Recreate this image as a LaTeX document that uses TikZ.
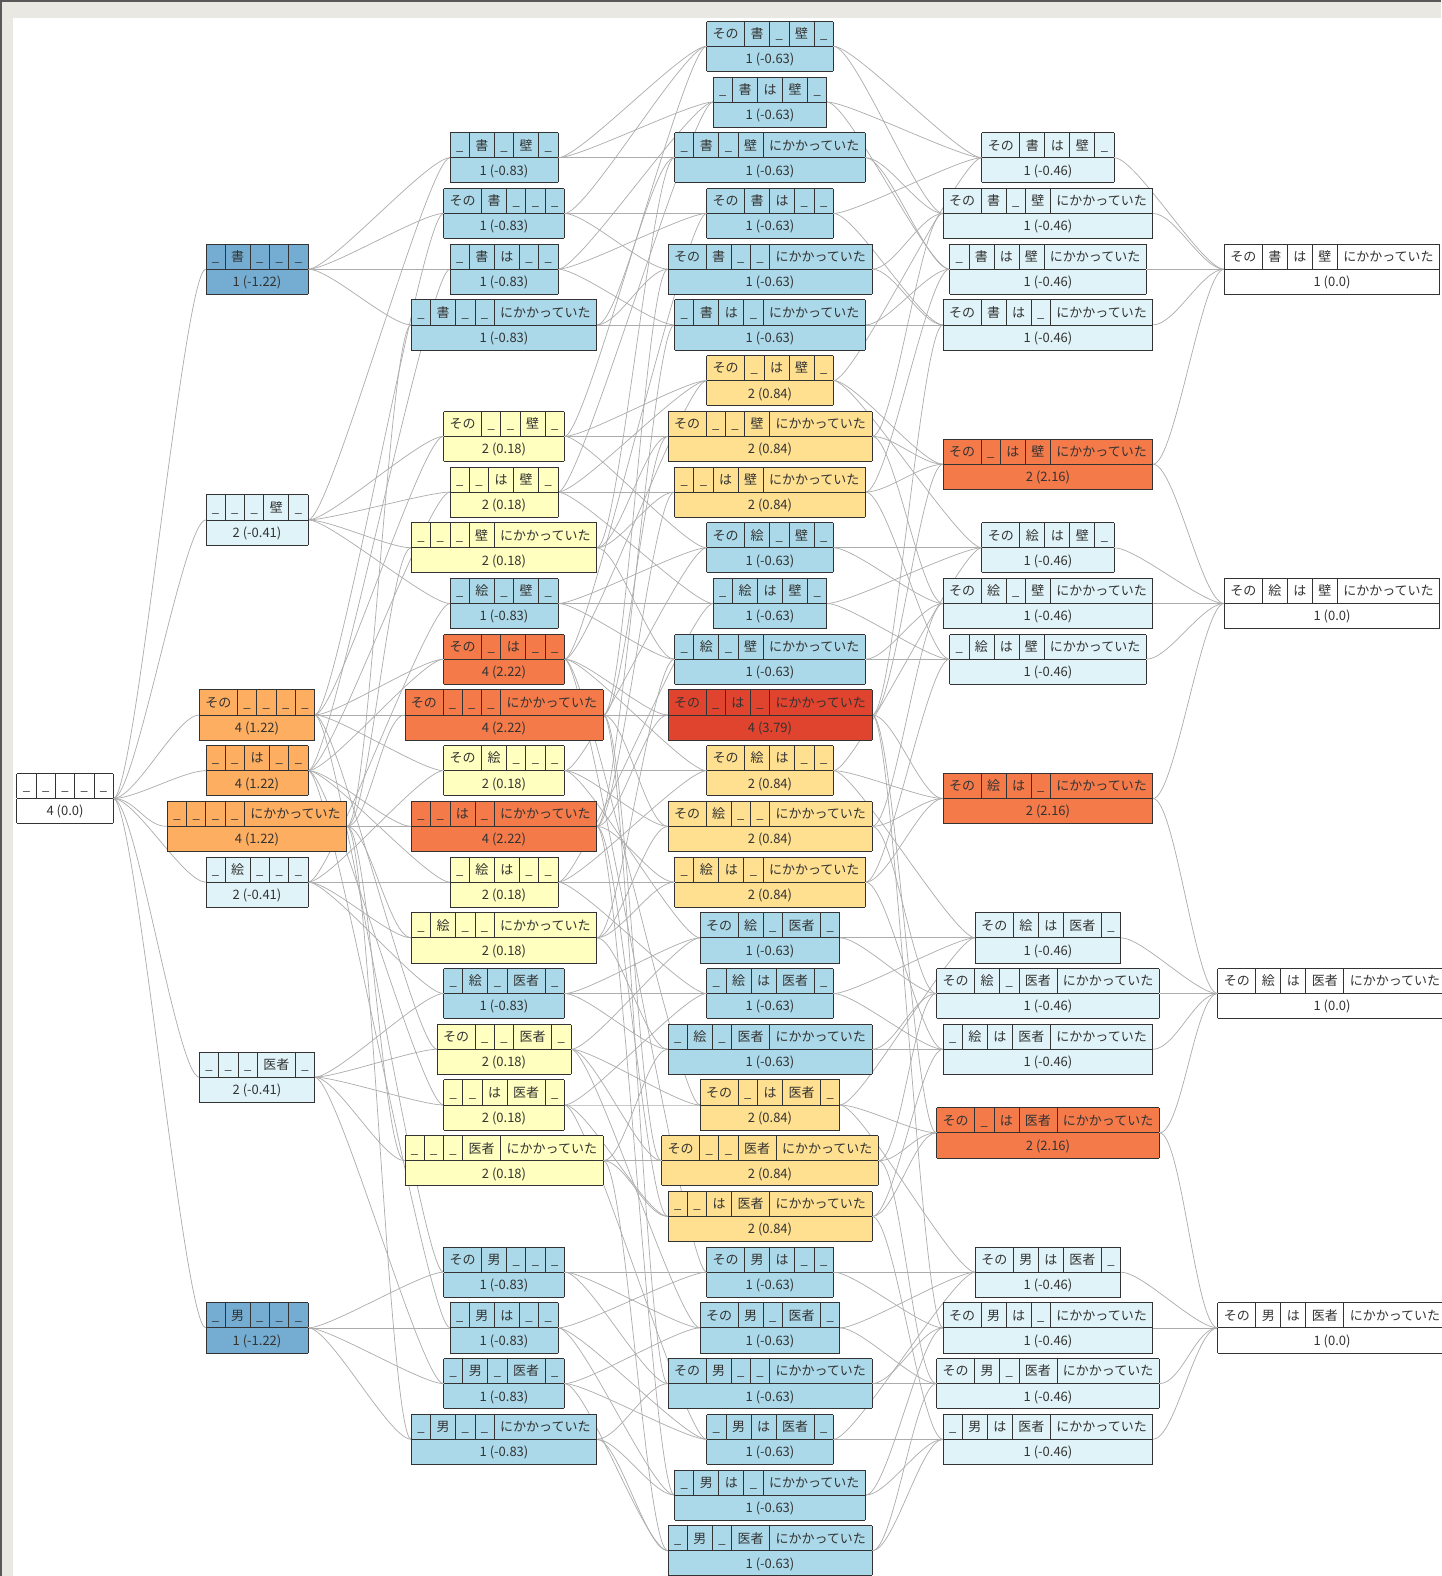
\documentclass[tikz,border=0pt]{standalone}
\usepackage{fontspec}
\newfontfamily\cjk{Noto Sans CJK JP}
\pgfdeclarelayer{back}\pgfdeclarelayer{bg}\pgfsetlayers{back,bg,main}
\definecolor{paper}{RGB}{234,232,227}
\definecolor{edgec}{RGB}{172,172,172}
\definecolor{cW}{HTML}{FFFFFF}
\definecolor{cBa}{HTML}{74ADD1}
\definecolor{cBb}{HTML}{ABD9E9}
\definecolor{cBc}{HTML}{E0F3F8}
\definecolor{cYa}{HTML}{FFFFBF}
\definecolor{cYb}{HTML}{FEE090}
\definecolor{cOa}{HTML}{FDAE61}
\definecolor{cOb}{HTML}{F47A4A}
\definecolor{cR}{HTML}{E0432E}
\setlength\tabcolsep{6pt}
\setlength\arrayrulewidth{0.8pt}
\renewcommand\arraystretch{1.62}
\expandafter\def\csname tk0\endcsname{\_}
\expandafter\def\csname tkS\endcsname{その}
\expandafter\def\csname tkB\endcsname{書}
\expandafter\def\csname tkE\endcsname{絵}
\expandafter\def\csname tkM\endcsname{男}
\expandafter\def\csname tkH\endcsname{は}
\expandafter\def\csname tkK\endcsname{壁}
\expandafter\def\csname tkI\endcsname{医者}
\expandafter\def\csname tkN\endcsname{にかかっていた}
\def\cellsof#1#2#3#4#5#6{\begin{tabular}{|c|c|c|c|c|}\hline
\csname tk#1\endcsname&\csname tk#2\endcsname&\csname tk#3\endcsname&\csname tk#4\endcsname&\csname tk#5\endcsname\\\hline
\multicolumn{5}{|c|}{#6}\\\hline\end{tabular}}
\newcommand\edg[2]{\begin{pgfonlayer}{bg}\draw[conn] (n#1.east) to[out=0,in=180,out distance=22pt,in distance=22pt] (n#2.west);\end{pgfonlayer}}
\def\mkedges#1#2#3#4#5{%
\if#10\else\edg{0#2#3#4#5}{#1#2#3#4#5}\fi
\if#20\else\edg{#10#3#4#5}{#1#2#3#4#5}\fi
\if#30\else\edg{#1#20#4#5}{#1#2#3#4#5}\fi
\if#40\else\edg{#1#2#30#5}{#1#2#3#4#5}\fi
\if#50\else\edg{#1#2#3#40}{#1#2#3#4#5}\fi}
\newcommand\nd[5]{\node[rec,fill=#5] (n#1) at (#2,{46.3+55.72*(#3)}) {\cellsof#1{#4}};\mkedges#1}
\begin{document}
\begin{tikzpicture}[x=1pt,y=-1pt,
  rec/.style={inner sep=0pt,text=black!80,font=\cjk\fontsize{13}{15}\selectfont},
  conn/.style={draw=edgec,line width=0.7pt}]
\useasboundingbox (0,0) rectangle (1441,1576);
\begin{pgfonlayer}{back}
\fill[paper] (0,0) rectangle (1441,1576);
\fill[black!65] (0,0) rectangle (2,1576);
\fill[black!65] (0,0) rectangle (1441,2);
\fill[white] (13,18) rectangle (1441,1576);
\end{pgfonlayer}
% column 0
\nd{00000}{65}{13.5}{4 (0.0)}{cW}
% column 1
\nd{0B000}{257}{4}{1 (-1.22)}{cBa}
\nd{000K0}{257}{8.5}{2 (-0.41)}{cBc}
\nd{S0000}{257}{12}{4 (1.22)}{cOa}
\nd{00H00}{257}{13}{4 (1.22)}{cOa}
\nd{0000N}{257}{14}{4 (1.22)}{cOa}
\nd{0E000}{257}{15}{2 (-0.41)}{cBc}
\nd{000I0}{257}{18.5}{2 (-0.41)}{cBc}
\nd{0M000}{257}{23}{1 (-1.22)}{cBa}
% column 2
\nd{0B0K0}{504}{2}{1 (-0.83)}{cBb}
\nd{SB000}{504}{3}{1 (-0.83)}{cBb}
\nd{0BH00}{504}{4}{1 (-0.83)}{cBb}
\nd{0B00N}{504}{5}{1 (-0.83)}{cBb}
\nd{S00K0}{504}{7}{2 (0.18)}{cYa}
\nd{00HK0}{504}{8}{2 (0.18)}{cYa}
\nd{000KN}{504}{9}{2 (0.18)}{cYa}
\nd{0E0K0}{504}{10}{1 (-0.83)}{cBb}
\nd{S0H00}{504}{11}{4 (2.22)}{cOb}
\nd{S000N}{504}{12}{4 (2.22)}{cOb}
\nd{SE000}{504}{13}{2 (0.18)}{cYa}
\nd{00H0N}{504}{14}{4 (2.22)}{cOb}
\nd{0EH00}{504}{15}{2 (0.18)}{cYa}
\nd{0E00N}{504}{16}{2 (0.18)}{cYa}
\nd{0E0I0}{504}{17}{1 (-0.83)}{cBb}
\nd{S00I0}{504}{18}{2 (0.18)}{cYa}
\nd{00HI0}{504}{19}{2 (0.18)}{cYa}
\nd{000IN}{504}{20}{2 (0.18)}{cYa}
\nd{SM000}{504}{22}{1 (-0.83)}{cBb}
\nd{0MH00}{504}{23}{1 (-0.83)}{cBb}
\nd{0M0I0}{504}{24}{1 (-0.83)}{cBb}
\nd{0M00N}{504}{25}{1 (-0.83)}{cBb}
% column 3
\nd{SB0K0}{770}{0}{1 (-0.63)}{cBb}
\nd{0BHK0}{770}{1}{1 (-0.63)}{cBb}
\nd{0B0KN}{770}{2}{1 (-0.63)}{cBb}
\nd{SBH00}{770}{3}{1 (-0.63)}{cBb}
\nd{SB00N}{770}{4}{1 (-0.63)}{cBb}
\nd{0BH0N}{770}{5}{1 (-0.63)}{cBb}
\nd{S0HK0}{770}{6}{2 (0.84)}{cYb}
\nd{S00KN}{770}{7}{2 (0.84)}{cYb}
\nd{00HKN}{770}{8}{2 (0.84)}{cYb}
\nd{SE0K0}{770}{9}{1 (-0.63)}{cBb}
\nd{0EHK0}{770}{10}{1 (-0.63)}{cBb}
\nd{0E0KN}{770}{11}{1 (-0.63)}{cBb}
\nd{S0H0N}{770}{12}{4 (3.79)}{cR}
\nd{SEH00}{770}{13}{2 (0.84)}{cYb}
\nd{SE00N}{770}{14}{2 (0.84)}{cYb}
\nd{0EH0N}{770}{15}{2 (0.84)}{cYb}
\nd{SE0I0}{770}{16}{1 (-0.63)}{cBb}
\nd{0EHI0}{770}{17}{1 (-0.63)}{cBb}
\nd{0E0IN}{770}{18}{1 (-0.63)}{cBb}
\nd{S0HI0}{770}{19}{2 (0.84)}{cYb}
\nd{S00IN}{770}{20}{2 (0.84)}{cYb}
\nd{00HIN}{770}{21}{2 (0.84)}{cYb}
\nd{SMH00}{770}{22}{1 (-0.63)}{cBb}
\nd{SM0I0}{770}{23}{1 (-0.63)}{cBb}
\nd{SM00N}{770}{24}{1 (-0.63)}{cBb}
\nd{0MHI0}{770}{25}{1 (-0.63)}{cBb}
\nd{0MH0N}{770}{26}{1 (-0.63)}{cBb}
\nd{0M0IN}{770}{27}{1 (-0.63)}{cBb}
% column 4
\nd{SBHK0}{1048}{2}{1 (-0.46)}{cBc}
\nd{SB0KN}{1048}{3}{1 (-0.46)}{cBc}
\nd{0BHKN}{1048}{4}{1 (-0.46)}{cBc}
\nd{SBH0N}{1048}{5}{1 (-0.46)}{cBc}
\nd{S0HKN}{1048}{7.5}{2 (2.16)}{cOb}
\nd{SEHK0}{1048}{9}{1 (-0.46)}{cBc}
\nd{SE0KN}{1048}{10}{1 (-0.46)}{cBc}
\nd{0EHKN}{1048}{11}{1 (-0.46)}{cBc}
\nd{SEH0N}{1048}{13.5}{2 (2.16)}{cOb}
\nd{SEHI0}{1048}{16}{1 (-0.46)}{cBc}
\nd{SE0IN}{1048}{17}{1 (-0.46)}{cBc}
\nd{0EHIN}{1048}{18}{1 (-0.46)}{cBc}
\nd{S0HIN}{1048}{19.5}{2 (2.16)}{cOb}
\nd{SMHI0}{1048}{22}{1 (-0.46)}{cBc}
\nd{SMH0N}{1048}{23}{1 (-0.46)}{cBc}
\nd{SM0IN}{1048}{24}{1 (-0.46)}{cBc}
\nd{0MHIN}{1048}{25}{1 (-0.46)}{cBc}
% column 5
\nd{SBHKN}{1332}{4}{1 (0.0)}{cW}
\nd{SEHKN}{1332}{10}{1 (0.0)}{cW}
\nd{SEHIN}{1332}{17}{1 (0.0)}{cW}
\nd{SMHIN}{1332}{23}{1 (0.0)}{cW}
\end{tikzpicture}
\end{document}
